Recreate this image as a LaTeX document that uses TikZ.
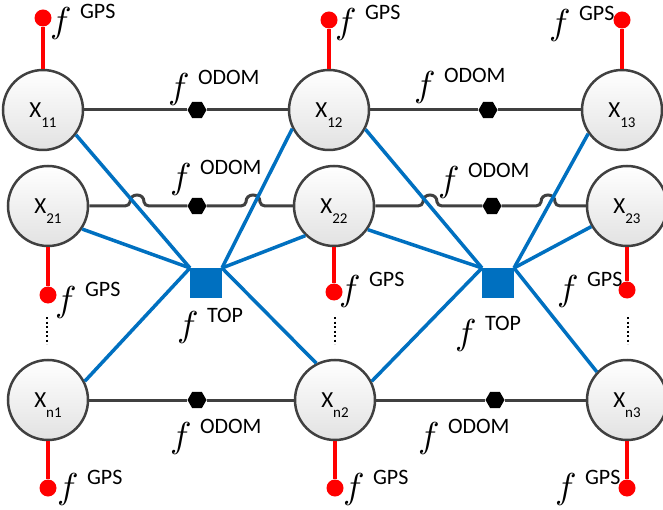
\documentclass[tikz,border=0pt]{standalone}
\usepackage{fontspec}
\setmainfont{Carlito}
\usetikzlibrary{shapes.geometric}
\definecolor{lgray}{HTML}{404040}
\definecolor{tblue}{HTML}{0070C0}
\definecolor{gred}{HTML}{FF0000}
\definecolor{vfill}{HTML}{E2E2E2}
\newcommand{\flab}[1]{\makebox[30pt][l]{\scalebox{3.6}{$f$}}\raisebox{14pt}{\fontsize{22}{22}\selectfont #1}}
\newcommand{\xsub}[1]{X\raisebox{-10pt}[0pt][0pt]{\fontsize{15}{15}\selectfont #1}}
\newcommand{\hopat}[2]{-- (#1-12,#2) .. controls (#1-9,#2) and (#1-7.5,#2-2) .. (#1-7,#2-4) .. controls (#1-7,#2-8.5) and (#1-4,#2-11) .. (#1,#2-11) .. controls (#1+4,#2-11) and (#1+7,#2-8.5) .. (#1+7,#2-4) .. controls (#1+7.5,#2-2) and (#1+9,#2) .. (#1+12,#2)}
\tikzset{
  var/.style={circle, draw=lgray, line width=2.5pt, top color=white, bottom color=vfill,
    minimum size=80pt, inner sep=0pt, font=\fontsize{23}{23}\selectfont},
  gpsdot/.style={circle, fill=gred, draw=none, minimum size=17pt, inner sep=0pt},
  odomhex/.style={regular polygon, regular polygon sides=6, fill=black, draw=none,
    minimum size=19pt, inner sep=0pt},
  topsq/.style={rectangle, fill=tblue, draw=none, minimum width=32pt, minimum height=30pt, inner sep=0pt, outer sep=0pt},
  lab/.style={anchor=base west, inner sep=0pt, outer sep=0pt},
  gpsline/.style={draw=gred, line width=3.5pt},
  odomline/.style={draw=lgray, line width=3pt},
  topline/.style={draw=tblue, line width=3.5pt},
  ellip/.style={draw=black, line width=2.5pt, dash pattern=on 2.2pt off 2.3pt}
}
\begin{document}
\begin{tikzpicture}[x=1pt,y=-1pt]
\useasboundingbox (0,0) rectangle (663,510);
% variable nodes
\node[var] (x11) at (43,110) {\xsub{11}};
\node[var] (x12) at (329,110) {\xsub{12}};
\node[var] (x13) at (622,110) {\xsub{13}};
\node[var] (x21) at (48,206) {\xsub{21}};
\node[var] (x22) at (334,206) {\xsub{22}};
\node[var] (x23) at (627,206) {\xsub{23}};
\node[var] (xn1) at (48,400) {\xsub{n1}};
\node[var] (xn2) at (335,400) {\xsub{n2}};
\node[var] (xn3) at (627,400) {\xsub{n3}};
% GPS dots
\node[gpsdot] (d11) at (43,18) {};
\node[gpsdot] (d12) at (329,20) {};
\node[gpsdot] (d13) at (622,20) {};
\node[gpsdot] (d21) at (48,295) {};
\node[gpsdot] (d22) at (334,292) {};
\node[gpsdot] (d23) at (627,290) {};
\node[gpsdot] (dn1) at (48,488) {};
\node[gpsdot] (dn2) at (335,488) {};
\node[gpsdot] (dn3) at (627,488) {};
\draw[gpsline] (x11) -- (d11);
\draw[gpsline] (x12) -- (d12);
\draw[gpsline] (x13) -- (d13);
\draw[gpsline] (x21) -- (d21);
\draw[gpsline] (x22) -- (d22);
\draw[gpsline] (x23) -- (d23);
\draw[gpsline] (xn1) -- (dn1);
\draw[gpsline] (xn2) -- (dn2);
\draw[gpsline] (xn3) -- (dn3);
% odometry
\node[odomhex] (h1a) at (197,110) {};
\node[odomhex] (h1b) at (488,110) {};
\node[odomhex] (h2a) at (197,206) {};
\node[odomhex] (h2b) at (492,206) {};
\node[odomhex] (hna) at (197,400) {};
\node[odomhex] (hnb) at (495,400) {};
\draw[odomline] (x11) -- (h1a) -- (x12);
\draw[odomline] (x12) -- (h1b) -- (x13);
\draw[odomline] (xn1) -- (hna) -- (xn2);
\draw[odomline] (xn2) -- (hnb) -- (xn3);
\draw[odomline] (x21.east) \hopat{137}{206} -- (h2a) \hopat{253}{206} -- (x22.west);
\draw[odomline] (x22.east) \hopat{430}{206} -- (h2b) \hopat{548}{206} -- (x23.west);
% topology factors
\node[topsq] (t1) at (206,283) {};
\node[topsq] (t2) at (498,283) {};
\draw[topline] (x11.-37) -- (t1.north west);
\draw[topline] (x21.-34) -- (t1.north west);
\draw[topline] (xn1.27) -- (t1.north west);
\draw[topline] (x12.-153) -- (t1.north east);
\draw[topline] (x22.-134) -- (t1.north east);
\draw[topline] (xn2.117) -- (t1.north east);
\draw[topline] (x12.-28) -- (t2.north west);
\draw[topline] (x22.-35) -- (t2.north west);
\draw[topline] (xn2.27) -- (t2.north west);
\draw[topline] (x13.-145) -- (t2.north east);
\draw[topline] (x23.-150) -- (t2.north east);
\draw[topline] (xn3.137) -- (t2.north east);
% vertical ellipses
\coordinate (e1a) at (47,317); \coordinate (e1b) at (47,344);
\coordinate (e2a) at (335,317); \coordinate (e2b) at (335,344);
\coordinate (e3a) at (628,317); \coordinate (e3b) at (628,344);
\draw[ellip] (e1a) -- (e1b);
\draw[ellip] (e2a) -- (e2b);
\draw[ellip] (e3a) -- (e3b);
% labels
\node[lab] (lg11) at (50,33) {\flab{GPS}};
\node[lab] (lg12) at (335,34) {\flab{GPS}};
\node[lab] (lg13) at (549,35) {\flab{GPS}};
\node[lab] (lg21) at (55,311) {\flab{GPS}};
\node[lab] (lg22) at (339,301) {\flab{GPS}};
\node[lab] (lg23) at (557,301) {\flab{GPS}};
\node[lab] (lgn1) at (57,498) {\flab{GPS}};
\node[lab] (lgn2) at (343,498) {\flab{GPS}};
\node[lab] (lgn3) at (555,498) {\flab{GPS}};
\node[lab] (lo1a) at (168,99) {\flab{ODOM}};
\node[lab] (lo1b) at (414,97) {\flab{ODOM}};
\node[lab] (lo2a) at (170,189) {\flab{ODOM}};
\node[lab] (lo2b) at (438,192) {\flab{ODOM}};
\node[lab] (lona) at (170,447) {\flab{ODOM}};
\node[lab] (lonb) at (418,447) {\flab{ODOM}};
\node[lab] (lt1) at (177,336) {\flab{TOP}};
\node[lab] (lt2) at (455,344) {\flab{TOP}};
\end{tikzpicture}
\end{document}
